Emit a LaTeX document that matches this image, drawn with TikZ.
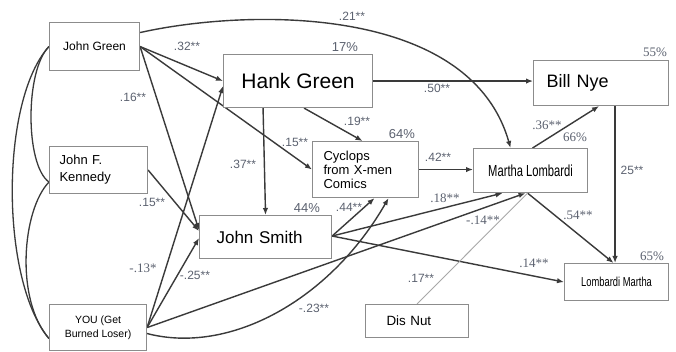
\documentclass[tikz,border=0pt]{standalone}
\usepackage{fontspec}
\setmainfont{Liberation Sans}
\newfontfamily\serifl{Liberation Serif}
\usetikzlibrary{arrows.meta,calc}
\definecolor{boxgray}{HTML}{8C8C8C}
\definecolor{linegray}{HTML}{3A3A3A}
\definecolor{labgray}{HTML}{5C6270}
\definecolor{lightline}{HTML}{A8A8A8}
\pgfdeclarelayer{bg}
\pgfsetlayers{bg,main}
\begin{document}
\begin{tikzpicture}[x=1pt,y=-1pt,
  box/.style={draw=boxgray, line width=1.1pt, fill=white, anchor=north west, inner sep=0pt, text=black},
  lab/.style={text=labgray, font=\fontsize{12}{12}\selectfont, inner sep=0pt},
  labs/.style={text=labgray, font=\serifl\fontsize{13}{13}\selectfont, inner sep=0pt},
  conn/.style={draw=linegray, line width=1.4pt, -{Latex[length=7pt,width=5.5pt]}},
  corr/.style={draw=linegray, line width=1.3pt},
  faint/.style={draw=lightline, line width=0.9pt},
]
\useasboundingbox (0,0) rectangle (676,352);

% boxes
\node[box, minimum width=90pt, minimum height=48pt, font=\fontsize{12}{12}\selectfont] (jg) at (49,22) {John Green};
\node[box, minimum width=149pt, minimum height=53pt, font=\fontsize{21}{21}\selectfont] (hg) at (223,54) {Hank Green};
\node[box, minimum height=45pt, text width=109pt, align=left, inner xsep=13pt, font=\fontsize{18}{18}\selectfont] (bn) at (533,60) {Bill Nye};
\node[box, minimum height=47pt, text width=78pt, align=left, inner xsep=10pt, font=\fontsize{13}{17}\selectfont] (jfk) at (49,146) {John F.\\Kennedy};
\node[box, minimum height=56pt, text width=84pt, align=left, inner xsep=11pt, font=\fontsize{13}{14}\selectfont] (cyc) at (312,141) {Cyclops\\from X-men\\Comics};
\node[box, minimum width=114pt, minimum height=44pt] (ml) at (473,148) {\scalebox{0.7}[1]{\fontsize{16}{16}\selectfont Martha Lombardi}};
\node[box, minimum height=43pt, text width=98pt, align=left, inner xsep=17pt, font=\fontsize{17}{17}\selectfont] (js) at (199,215) {John Smith};
\node[box, minimum width=97pt, minimum height=46pt, align=center, font=\fontsize{10.5}{14}\selectfont] (you) at (49,304) {YOU (Get\\Burned Loser)};
\node[box, minimum height=33pt, text width=61pt, align=left, inner xsep=21pt, font=\fontsize{13.4}{13.4}\selectfont] (dn) at (365,304) {Dis Nut};
\node[box, minimum width=104pt, minimum height=37pt] (lm) at (564,263) {\scalebox{0.72}[1]{\fontsize{13}{13}\selectfont Lombardi Martha}};

% connectors
\begin{pgfonlayer}{bg}
\fill[white] (0,0) rectangle (676,352);
\draw[corr] (jg.west) .. controls (0,100) and (0,280) .. ([yshift=-11pt]you.west);
\draw[corr] (jg.west) .. controls (25,70) and (25,165) .. ([yshift=-12pt]jfk.west);
\draw[corr] ([yshift=-12pt]jfk.west) .. controls (22,210) and (15,300) .. ([yshift=-11pt]you.west);

\draw[conn] (jg.east) -- (hg.west);
\draw[conn] (jg.east) -- (cyc.west);
\draw[conn] (jg.east) -- ([yshift=7pt]js.west);
\draw[conn] ([yshift=14pt]jg.east) .. controls (250,8) and (470,5) .. ([xshift=-20pt]ml.north);
\draw[conn, line width=1.8pt] (hg.east) -- (hg.east -| bn.west);
\draw[conn] ([xshift=6pt]hg.south) -- ([xshift=-3pt]cyc.north);
\draw[conn] ([xshift=-35pt]hg.south) -- (js.north);
\draw[conn] (cyc.east) -- (cyc.east -| ml.west);
\draw[conn] ([xshift=2pt]ml.north) -- ([xshift=-2pt]bn.south);
\draw[conn] ([xshift=14pt]bn.south) -- ([xshift=14pt]bn.south |- lm.north);
\draw[conn] ([xshift=-3pt]ml.south) -- ([xshift=-3pt]lm.north);
\draw[conn] ([yshift=1pt]js.east) -- ([xshift=9pt]cyc.south);
\draw[conn] ([yshift=1pt]js.east) -- ([xshift=-28pt]ml.south);
\draw[conn] ([yshift=1pt]js.east) -- (lm.west);
\draw[conn] (jfk.east) -- ([yshift=6pt]js.west);
\draw[conn] (you.east) -- ([yshift=-5pt]hg.west);
\draw[conn] (you.east) -- ([yshift=-1pt]js.west);
\draw[conn] (you.east) -- ([xshift=-5pt]ml.south);
\draw[conn] ([yshift=-6pt]you.east) .. controls (230,355) and (330,300) .. ([xshift=23pt]cyc.south);
\draw[faint] (dn.north) -- ([xshift=-3pt]ml.south);
\end{pgfonlayer}

% labels
\node[lab] (l21) at (352,16) {.21**};
\node[lab, font=\fontsize{13}{13}\selectfont] (p17) at (345,47) {17\%};
\node[lab] (l32) at (187,46) {.32**};
\node[lab] (l16) at (133,97) {.16**};
\node[lab] (l50) at (437,88) {.50**};
\node[labs] (p55) at (655,52) {55\%};
\node[lab] (l19) at (357,121) {.19**};
\node[lab, font=\fontsize{13}{13}\selectfont] (p64) at (402,134) {64\%};
\node[lab] (l15a) at (295,142) {.15**};
\node[lab] (l37) at (243,164) {.37**};
\node[lab] (l42) at (438,157) {.42**};
\node[labs] (l18) at (445,198) {.18**};
\node[lab, font=\fontsize{13}{13}\selectfont] (p44) at (307,208) {44\%};
\node[lab] (l44) at (349,207) {.44**};
\node[labs] (l36) at (547,125) {.36**};
\node[labs] (p66) at (575,137) {66\%};
\node[lab] (l25) at (632,170) {25**};
\node[labs] (l54) at (578,215) {.54**};
\node[labs] (l14a) at (483,220) {-.14**};
\node[lab] (l15b) at (152,202) {.15**};
\node[labs] (l13) at (143,268) {-.13*};
\node[lab] (l25b) at (195,275) {-.25**};
\node[lab] (l23) at (314,308) {-.23**};
\node[lab] (l17) at (421,278) {.17**};
\node[labs] (l14b) at (534,263) {.14**};
\node[labs] (p65) at (652,256) {65\%};
\end{tikzpicture}
\end{document}
